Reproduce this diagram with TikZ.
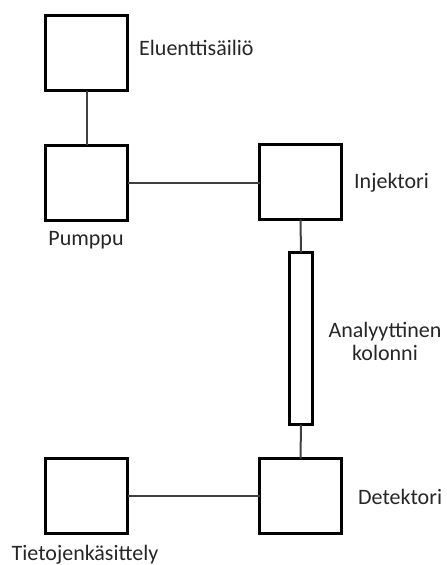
\documentclass[tikz,border=0pt]{standalone}
\usepackage{fontspec}
\setmainfont{Carlito}
\begin{document}
\begin{tikzpicture}[x=1pt,y=-1pt,
  box/.style={draw=black, line width=3pt, minimum width=82pt, minimum height=75pt, inner sep=0pt, outer sep=0pt},
  col/.style={draw=black, line width=3pt, minimum width=23pt, minimum height=172pt, inner sep=0pt, outer sep=0pt},
  conn/.style={draw=black!75, line width=2pt},
  lbl/.style={font=\fontsize{22}{23}\selectfont, text=black!85, inner sep=0pt}]
\useasboundingbox (0,0) rectangle (447,565);
\node[box] (E) at (86.5,53) {};
\node[box] (P) at (86.5,182.5) {};
\node[box] (I) at (300.5,182) {};
\node[col] (C) at (301,338.5) {};
\node[box] (D) at (300.5,496) {};
\node[box] (T) at (86.5,496) {};
\draw[conn] (E.south) -- (P.north);
\draw[conn] (P.east |- 0,183) -- (I.west |- 0,183);
\draw[conn] (I.south) -- (C.north);
\draw[conn] (C.south) -- (D.north);
\draw[conn] (T.east) -- (D.west);
\node[lbl, anchor=west] (lE) at (139,48) {Eluenttisäiliö};
\node[lbl] (lP) at (86,240) {Pumppu};
\node[lbl, anchor=west] (lI) at (354,183) {Injektori};
\node[lbl, align=center] (lC) at (385,341) {Analyyttinen\\kolonni};
\node[lbl, anchor=west] (lD) at (358,497) {Detektori};
\node[lbl] (lT) at (85,555) {Tietojenkäsittely};
\end{tikzpicture}
\end{document}
